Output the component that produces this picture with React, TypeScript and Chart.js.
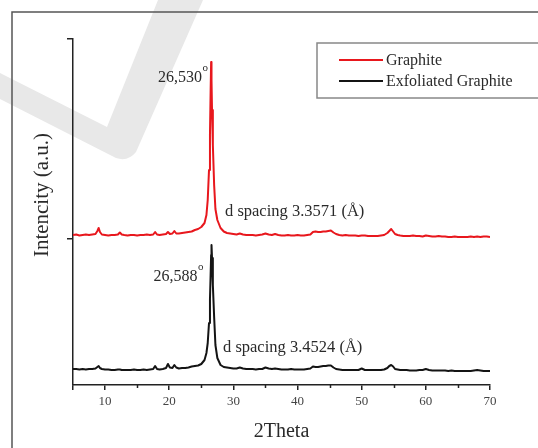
import React, { useEffect, useRef } from "react";
import { Chart, registerables } from "chart.js";

Chart.register(...registerables);

// 2θ grid (degrees)
const twoTheta: number[] = [
  5, 5.5, 6, 6.5, 7, 7.5, 8, 8.5, 8.8, 9.0,
  9.2, 9.5, 10, 10.5, 11, 11.5, 12, 12.3, 12.6, 13,
  13.5, 14, 14.5, 15, 15.5, 16, 16.5, 17, 17.5, 17.8,
  18.1, 18.5, 19, 19.5, 19.8, 20.1, 20.5, 20.8, 21.1, 21.5,
  22, 22.5, 23, 23.5, 24, 24.5, 25, 25.5, 25.8, 26.0,
  26.2, 26.35, 26.45, 26.53, 26.59, 26.67, 26.8, 27.0, 27.2, 27.5,
  28, 28.5, 29, 29.5, 30, 30.5, 31, 31.5, 32, 32.5,
  33, 33.5, 34, 34.5, 35, 35.5, 36, 36.5, 37, 37.5,
  38, 38.5, 39, 39.5, 40, 40.5, 41, 41.5, 42, 42.4,
  42.8, 43.2, 43.6, 44, 44.4, 44.8, 45.2, 45.6, 46, 46.5,
  47, 47.5, 48, 48.5, 49, 49.5, 50, 50.5, 51, 51.5,
  52, 52.5, 53, 53.5, 54, 54.3, 54.6, 54.9, 55.2, 55.6,
  56, 56.5, 57, 57.5, 58, 58.5, 59, 59.5, 60, 60.5,
  61, 61.5, 62, 62.5, 63, 63.5, 64, 64.5, 65, 65.5,
  66, 66.5, 67, 67.5, 68, 68.5, 69, 69.5, 70,
];

// Graphite (red), stacked offset intensity (a.u.)
const graphiteIntensity: number[] = [
  150, 150.5, 149.5, 150, 150.5, 150, 150.5, 151, 154, 157,
  153, 150.5, 150, 149.5, 150, 150, 150.5, 152.5, 150.5, 150,
  149.5, 150, 150, 149.5, 150, 150, 150.5, 150, 150.5, 153,
  150.5, 150, 150.5, 151, 153, 151, 151.5, 154, 151.5, 151.5,
  152, 152.5, 153, 153.5, 155, 156, 158, 162, 170, 185,
  215, 250, 293, 323, 305, 275, 240, 200, 176, 165,
  157, 153.5, 152, 151.5, 151, 150.5, 151.5, 150.5, 150, 150,
  150, 149.5, 150, 150.5, 151.5, 150.5, 150, 151, 150, 149.5,
  149.5, 150, 149.5, 149.5, 150, 149.5, 149.5, 150, 150.5, 153,
  153.5, 153, 153, 153.5, 153.5, 154, 154.5, 152.5, 151, 150,
  149.5, 150, 149.5, 149.5, 149.5, 149, 149.5, 149.5, 149, 149,
  149, 149, 149.5, 150, 152, 154, 156, 153.5, 151, 150,
  149.5, 149, 149, 149, 149.5, 149, 149, 148.5, 149.5, 149,
  148.5, 148.5, 149, 148.5, 148.5, 148, 148, 148.5, 148, 148,
  148, 148, 148.5, 148, 148.5, 148, 148.5, 148.5, 148,
];

// Exfoliated graphite (black)
const exfoliatedIntensity: number[] = [
  16, 16, 15.5, 16, 15.5, 16, 16, 16.5, 18, 19,
  17, 16, 15.5, 15.5, 15, 15, 15.5, 15.5, 15, 15,
  15, 15, 15.5, 15, 15, 15.5, 15, 15.5, 16, 19,
  16, 15.5, 16, 17, 21, 17.5, 17, 20, 17.5, 16.5,
  17, 17, 17.5, 18.5, 19, 19.5, 21, 25, 32, 42,
  62, 86, 110, 130, 140, 127, 100, 68, 40, 27,
  20, 18, 17.5, 17, 16.5, 16.5, 17.5, 16.5, 16, 16,
  16, 15.5, 16, 16, 17.5, 16.5, 16, 16.5, 16, 15.5,
  15.5, 15.5, 16, 15.5, 15.5, 15.5, 15.5, 16, 16.5, 18.5,
  18, 18, 18.5, 19, 19, 19.5, 19.5, 17.5, 16, 15.5,
  15, 15, 15, 15, 15, 15, 16.5, 15, 15, 15,
  15, 15, 15, 15.5, 17, 19, 20, 18.5, 16, 15.5,
  15, 15, 15, 14.5, 14.5, 14.5, 15, 15, 16, 15,
  14.5, 14.5, 14.5, 14.5, 14.5, 14, 14.5, 14, 14, 14,
  14, 14, 14, 14.5, 15, 14.5, 14, 14, 14,
];

const seriesLabels = ["Graphite", "Exfoliated Graphite"];
const seriesColors = ["#e8171d", "#141414"];
const xTickValues = [10, 20, 30, 40, 50, 60, 70];
const xMinorTickValues = [15, 25, 35, 45, 55, 65];
const yTickValues = [146, 346];
const peakLabels = ["26,530", "26,588"];
const peakTheta = [26.53, 26.59];
const spacingLabels = ["d spacing 3.3571 (Å)", "d spacing 3.4524 (Å)"];
const xTitle = "2Theta";
const yTitle = "Intencity (a.u.)";

const SERIF = "'Liberation Serif', 'Times New Roman', serif";
const TEXT = "#2a2a2a";

const decorPlugin = {
  id: "decor",
  beforeDraw(chart: any) {
    const ctx = chart.ctx as CanvasRenderingContext2D;
    const w = chart.width;
    const h = chart.height;
    ctx.save();
    ctx.fillStyle = "#ffffff";
    ctx.fillRect(0, 0, w, h);
    // watermark check mark
    ctx.fillStyle = "#e8e8e8";
    ctx.beginPath();
    ctx.moveTo(0, 73);
    ctx.lineTo(107, 127);
    ctx.lineTo(158, 0);
    ctx.lineTo(203, 0);
    ctx.lineTo(136, 152);
    ctx.quadraticCurveTo(128, 162, 116, 158);
    ctx.lineTo(0, 99);
    ctx.closePath();
    ctx.fill();
    // outer frame
    ctx.strokeStyle = "#555";
    ctx.lineWidth = 1.5;
    ctx.beginPath();
    ctx.moveTo(12, h);
    ctx.lineTo(12, 12);
    ctx.lineTo(w, 12);
    ctx.stroke();
    ctx.restore();
  },
  afterDraw(chart: any) {
    const ctx = chart.ctx as CanvasRenderingContext2D;
    const xs = chart.scales.x;
    const area = chart.chartArea;
    ctx.save();

    // minor x ticks (shorter, outward)
    ctx.strokeStyle = "#222";
    ctx.lineWidth = 1.5;
    xMinorTickValues.forEach((v) => {
      const px = Math.round(xs.getPixelForValue(v)) + 0.5;
      ctx.beginPath();
      ctx.moveTo(px, area.bottom);
      ctx.lineTo(px, area.bottom + 3);
      ctx.stroke();
    });

    ctx.fillStyle = TEXT;
    // axis titles
    ctx.font = `20px ${SERIF}`;
    ctx.textAlign = "center";
    ctx.textBaseline = "middle";
    ctx.fillText(xTitle, (area.left + area.right) / 2, 432);
    ctx.save();
    ctx.translate(42, 195);
    ctx.rotate(-Math.PI / 2);
    ctx.font = `21px ${SERIF}`;
    ctx.fillText(yTitle, 0, 0);
    ctx.restore();

    // peak labels
    const peakBaselines = [82, 281];
    const peakOffsets = [9, 14];
    ctx.textBaseline = "alphabetic";
    peakLabels.forEach((lab, i) => {
      const px = xs.getPixelForValue(peakTheta[i]) - peakOffsets[i];
      ctx.font = `16px ${SERIF}`;
      ctx.textAlign = "right";
      ctx.fillText(lab, px, peakBaselines[i]);
      ctx.font = `11px ${SERIF}`;
      ctx.textAlign = "left";
      ctx.fillText("o", px + 0.5, peakBaselines[i] - 11);
    });

    // d spacing labels
    const spacingX = [225, 223];
    const spacingBase = [216, 352];
    ctx.font = `16.5px ${SERIF}`;
    ctx.textAlign = "left";
    spacingLabels.forEach((lab, i) => {
      ctx.fillText(lab, spacingX[i], spacingBase[i]);
    });

    // legend
    ctx.strokeStyle = "#888";
    ctx.lineWidth = 1.5;
    ctx.strokeRect(317, 43, 240, 55);
    const ly = [60, 81];
    ctx.font = `16px ${SERIF}`;
    ctx.textBaseline = "middle";
    chart.data.datasets.forEach((ds: any, i: number) => {
      ctx.strokeStyle = ds.borderColor;
      ctx.lineWidth = 2;
      ctx.beginPath();
      ctx.moveTo(339, ly[i]);
      ctx.lineTo(383, ly[i]);
      ctx.stroke();
      ctx.fillStyle = TEXT;
      ctx.fillText(ds.label, 386, ly[i] + 1);
    });
    ctx.restore();
  },
};

export default function App() {
  const ref = useRef<HTMLCanvasElement | null>(null);

  useEffect(() => {
    document.body.style.margin = "0";
    const canvas = ref.current;
    if (!canvas) return;
    const series = [graphiteIntensity, exfoliatedIntensity];
    const chart = new Chart(canvas, {
      type: "line",
      data: {
        datasets: series.map((vals, i) => ({
          label: seriesLabels[i],
          data: twoTheta.map((t, j) => ({ x: t, y: vals[j] })),
          borderColor: seriesColors[i],
          borderWidth: 2,
          borderJoinStyle: "round" as const,
          pointRadius: 0,
          tension: 0,
          fill: false,
        })),
      },
      options: {
        animation: false,
        responsive: false,
        devicePixelRatio: 1,
        layout: { padding: { top: 39, right: 48, left: 0, bottom: 0 } },
        plugins: { legend: { display: false }, tooltip: { enabled: false } },
        scales: {
          x: {
            type: "linear",
            min: 5,
            max: 70,
            border: { color: "#222", width: 1.5 },
            grid: { drawOnChartArea: false, drawTicks: true, tickLength: 5, color: "#222", lineWidth: 1.5 },
            afterBuildTicks: (s: any) => {
              s.ticks = [5, ...xTickValues].map((v) => ({ value: v }));
            },
            ticks: {
              autoSkip: false,
              maxRotation: 0,
              padding: 4,
              color: "#444",
              font: { family: SERIF, size: 13 },
              callback: (v: any) => (xTickValues.includes(Number(v)) ? String(v) : ""),
            },
            afterFit: (s: any) => {
              s.height = 63;
            },
          },
          y: {
            type: "linear",
            min: 0,
            max: 346,
            border: { color: "#222", width: 1.5 },
            grid: { drawOnChartArea: false, drawTicks: true, tickLength: 6, color: "#222", lineWidth: 1.5 },
            afterBuildTicks: (s: any) => {
              s.ticks = yTickValues.map((v) => ({ value: v }));
            },
            ticks: { callback: () => "" },
            afterFit: (s: any) => {
              s.width = 73;
            },
          },
        },
      },
      plugins: [decorPlugin],
    });
    return () => chart.destroy();
  }, []);

  return <canvas ref={ref} width={538} height={448} style={{ display: "block" }} />;
}
